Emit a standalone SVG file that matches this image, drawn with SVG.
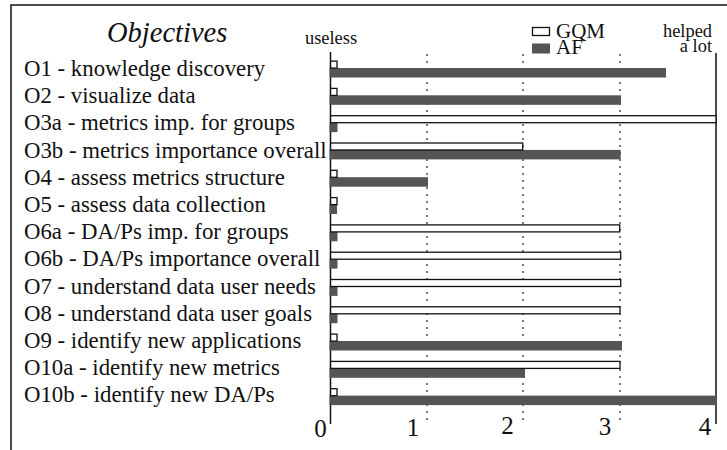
<svg xmlns="http://www.w3.org/2000/svg" width="727" height="450" viewBox="0 0 727 450">
  <style>
    text { fill: #111; font-family: "Liberation Serif", "Times New Roman", serif; }
    .lbl { font-size: 22.8px; }
    .small { font-size: 18.4px; }
    .num { font-size: 25px; text-anchor: middle; }
    .gqm { fill: #fff; stroke: #111; stroke-width: 1.3; }
    .af { fill: #555; }
    .grid { stroke: #333; stroke-width: 1.3; stroke-dasharray: 2 5; fill: none; }
    .axis { stroke: #111; stroke-width: 1.5; fill: none; }
  </style>
  <rect width="727" height="450" fill="#fff"/>

  <!-- frame -->
  <path class="axis" d="M11 450 V5 H727"/>

  <!-- title -->
  <text x="107" y="42" font-size="28.5" font-style="italic">Objectives</text>

  <!-- legend -->
  <g id="legend">
    <rect class="gqm" x="532.5" y="27.5" width="17" height="8"/>
    <text x="556" y="37.5" font-size="21">GQM</text>
    <rect class="af" x="532" y="43.5" width="18" height="10"/>
    <text x="556" y="54" font-size="21">AF</text>
  </g>

  <!-- scale ends -->
  <text class="small" x="305" y="44">useless</text>
  <text class="small" x="712" y="37" text-anchor="end">helped</text>
  <text class="small" x="712" y="52" text-anchor="end">a lot</text>

  <!-- grid and axes -->
  <g id="grid">
    <line class="grid" x1="427" y1="54" x2="427" y2="424"/>
    <line class="grid" x1="523" y1="54" x2="523" y2="424"/>
    <line class="grid" x1="620" y1="54" x2="620" y2="424"/>
    <line class="axis" x1="330.5" y1="52" x2="330.5" y2="424"/>
    <line class="axis" x1="716" y1="53" x2="716" y2="424"/>
  </g>

  <!-- axis numbers -->
  <g id="ticks">
    <text class="num" x="320.5" y="437">0</text>
    <text class="num" x="413" y="436">1</text>
    <text class="num" x="507.5" y="434">2</text>
    <text class="num" x="605" y="435">3</text>
    <text class="num" x="705" y="435">4</text>
  </g>

  <!-- objective labels -->
  <g id="labels">
    <text class="lbl" x="24" y="76">O1 - knowledge discovery</text>
    <text class="lbl" x="24" y="103.2">O2 - visualize data</text>
    <text class="lbl" x="24" y="130.4">O3a - metrics imp. for groups</text>
    <text class="lbl" x="24" y="157.6">O3b - metrics importance overall</text>
    <text class="lbl" x="24" y="184.8">O4 - assess metrics structure</text>
    <text class="lbl" x="24" y="212">O5 - assess data collection</text>
    <text class="lbl" x="24" y="239.2">O6a - DA/Ps imp. for groups</text>
    <text class="lbl" x="24" y="266.4">O6b - DA/Ps importance overall</text>
    <text class="lbl" x="24" y="293.6">O7 - understand data user needs</text>
    <text class="lbl" x="24" y="320.8">O8 - understand data user goals</text>
    <text class="lbl" x="24" y="348">O9 - identify new applications</text>
    <text class="lbl" x="24" y="375.2">O10a - identify new metrics</text>
    <text class="lbl" x="24" y="402.4">O10b - identify new DA/Ps</text>
  </g>

  <!-- bars: GQM (outlined) above AF (filled) per objective -->
  <g id="bars">
    <g id="o1"><rect class="af" x="329.5" y="68" width="336.5" height="9.5"/><rect class="gqm" x="330.6" y="61.1" width="6.4" height="7"/></g>
    <g id="o2"><rect class="af" x="329.5" y="95.3" width="291.5" height="9.5"/><rect class="gqm" x="330.6" y="88.4" width="6.4" height="7"/></g>
    <g id="o3a"><rect class="af" x="329.5" y="122.6" width="8" height="9.5"/><rect class="gqm" x="330.6" y="115.7" width="385.4" height="7"/></g>
    <g id="o3b"><rect class="af" x="329.5" y="149.9" width="291.2" height="9.5"/><rect class="gqm" x="330.6" y="143" width="192.1" height="7"/></g>
    <g id="o4"><rect class="af" x="329.5" y="177.2" width="98.5" height="9.5"/><rect class="gqm" x="330.6" y="170.3" width="6.4" height="7"/></g>
    <g id="o5"><rect class="af" x="329.5" y="204.5" width="7.5" height="9.5"/><rect class="gqm" x="330.6" y="197.6" width="6.4" height="7"/></g>
    <g id="o6a"><rect class="af" x="329.5" y="231.8" width="8" height="9.5"/><rect class="gqm" x="330.6" y="224.9" width="289.1" height="7"/></g>
    <g id="o6b"><rect class="af" x="329.5" y="259.1" width="8" height="9.5"/><rect class="gqm" x="330.6" y="252.2" width="290.1" height="7"/></g>
    <g id="o7"><rect class="af" x="329.5" y="286.4" width="8" height="9.5"/><rect class="gqm" x="330.6" y="279.5" width="290.1" height="7"/></g>
    <g id="o8"><rect class="af" x="329.5" y="313.7" width="8" height="9.5"/><rect class="gqm" x="330.6" y="306.8" width="289.4" height="7"/></g>
    <g id="o9"><rect class="af" x="329.5" y="341" width="292.5" height="9.5"/><rect class="gqm" x="330.6" y="334.1" width="6.4" height="7"/></g>
    <g id="o10a"><rect class="af" x="329.5" y="368.3" width="195.5" height="9.5"/><rect class="gqm" x="330.6" y="361.4" width="289.4" height="7"/></g>
    <g id="o10b"><rect class="af" x="329.5" y="395.6" width="386.5" height="9.5"/><rect class="gqm" x="330.6" y="388.7" width="6.4" height="7"/></g>
  </g>
</svg>
